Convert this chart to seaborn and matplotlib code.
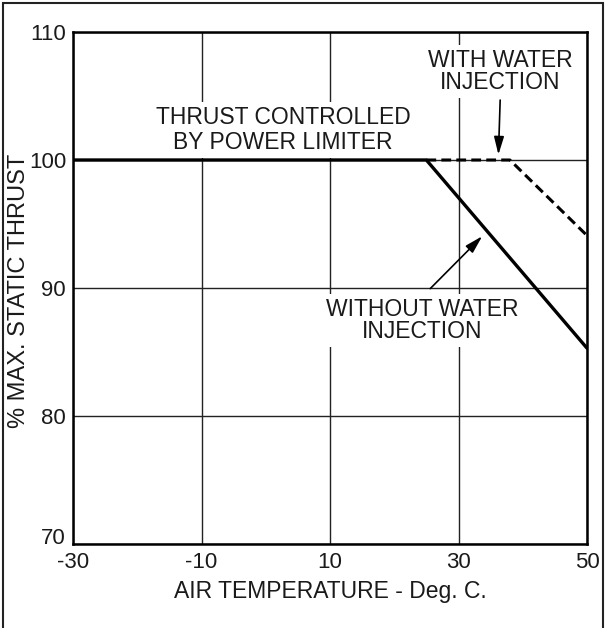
import matplotlib
matplotlib.use("Agg")
import matplotlib.pyplot as plt
from matplotlib.patches import Rectangle
import seaborn as sns
import pandas as pd

# Thrust lapse with air temperature
temp_without = [-30, 25, 50]
thrust_without = [100, 100, 85.3]
temp_with = [25, 38, 50]
thrust_with = [100, 100, 94.1]

x_ticks = [-30, -10, 10, 30, 50]
y_ticks = [70, 80, 90, 100, 110]

sns.set_theme(style="white")
plt.rcParams["font.family"] = ["Liberation Sans", "DejaVu Sans"]

TXT = "#1a1a1a"

fig = plt.figure(figsize=(6.05, 6.28), dpi=100)
ax = fig.add_axes([73 / 605, 1 - 544 / 628, (587 - 73) / 605, (544 - 32) / 628])

df_without = pd.DataFrame({"temp": temp_without, "thrust": thrust_without})
df_with = pd.DataFrame({"temp": temp_with, "thrust": thrust_with})

sns.lineplot(data=df_with, x="temp", y="thrust", ax=ax, color="black",
             lw=2.2, zorder=3)
ax.lines[-1].set_linestyle((0, (3.2, 1.7)))
sns.lineplot(data=df_without, x="temp", y="thrust", ax=ax, color="black",
             lw=2.4, zorder=4)

ax.set_xlim(-30, 50)
ax.set_ylim(70, 110)
ax.set_xticks(x_ticks)
ax.set_yticks(y_ticks)
ax.set_xticklabels([str(v) for v in x_ticks], fontsize=16)
ax.set_yticklabels([str(v) for v in y_ticks], fontsize=16)
ax.tick_params(axis="x", length=0, pad=6, colors=TXT)
ax.tick_params(axis="y", length=0, pad=5, colors=TXT)
# lowest y label rests on the corner, clear of the first x label
ax.get_yticklabels()[0].set_verticalalignment("baseline")
ax.grid(True, color="#222222", lw=1.0)
for s in ax.spines.values():
    s.set_color("black")
    s.set_linewidth(1.8)

ax.set_xlabel("AIR TEMPERATURE - Deg. C.", fontsize=16.5, color=TXT)
ax.xaxis.set_label_coords(0.5, -0.092)
ax.xaxis.label.set_verticalalignment("center")
ax.set_ylabel("% MAX. STATIC THRUST", fontsize=17, color=TXT)
ax.yaxis.set_label_coords(-0.106, 0.494)
ax.yaxis.label.set_verticalalignment("center")

box = dict(facecolor="white", edgecolor="none", pad=3)
ax.text(2.7, 100.45, "THRUST CONTROLLED\nBY POWER LIMITER", ha="center", va="bottom",
        fontsize=16.5, color=TXT, linespacing=1.1, bbox=box, zorder=2.5)
ax.text(36.5, 106.9, "WITH WATER\nINJECTION", ha="center", va="center",
        fontsize=16.5, color=TXT, linespacing=0.95, bbox=box, zorder=2.5)
ax.text(24.3, 89.2, "WITHOUT WATER\nINJECTION", ha="center", va="top",
        fontsize=16.5, color=TXT, linespacing=0.95, bbox=box, zorder=2.5)

ax.annotate("", xy=(36.2, 100.2), xytext=(36.5, 104.9),
            arrowprops=dict(arrowstyle="-|>,head_length=0.9,head_width=0.25",
                            color="black", lw=1.2), zorder=2.6)
ax.annotate("", xy=(34.0, 94.2), xytext=(25.3, 89.8),
            arrowprops=dict(arrowstyle="-|>,head_length=0.9,head_width=0.25",
                            color="black", lw=1.2), zorder=2.6)

# Outer frame around the figure
fig.patches.append(Rectangle((3 / 605, -0.02), 600 / 605, 1.02 - 3 / 628,
                             transform=fig.transFigure, fill=False,
                             edgecolor="#222222", lw=1.5))

fig.savefig("out.png", dpi=100)
